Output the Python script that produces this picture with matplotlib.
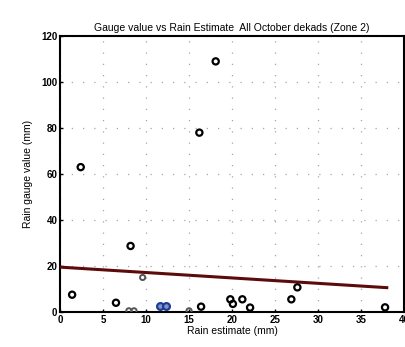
import numpy as np
import matplotlib
matplotlib.use('Agg')
import matplotlib.pyplot as plt

plt.rcParams['font.family'] = ['Liberation Sans', 'DejaVu Sans']

# estimate vs gauge, october dekads
est_black = [2.4, 1.4, 6.5, 8.2, 16.2, 18.1, 16.4, 19.8, 20.1, 21.2, 22.1, 26.9, 27.6, 37.8]
gauge_black = [63, 7.5, 4, 28.7, 78, 109, 2.3, 5.5, 3.5, 5.5, 1.9, 5.5, 10.7, 2]

est_blue = [11.6, 12.3]
gauge_blue = [2.7, 2.7]

est_grey = [9.6, 8.0, 8.6, 15.0]
gauge_grey = [15, 0.5, 0.5, 0.5]

# fitted trend
fit_x = [0, 38]
fit_intercept = 19.5
fit_slope = -0.235

fig = plt.figure(figsize=(4.06, 3.47), dpi=100)
ax = fig.add_axes([0.148, 0.101, 0.847, 0.795])

ax.grid(True, color='0.65', linestyle=(0, (1, 8)), linewidth=0.9)
ax.set_axisbelow(True)

fx = np.array(fit_x)
ax.plot(fx, fit_intercept + fit_slope * fx, color='#5c0a0a', linewidth=2.2, zorder=3)

ax.scatter(est_black, gauge_black, s=20, facecolors='none', edgecolors='black', linewidths=1.6, zorder=4)
ax.scatter(est_blue, gauge_blue, s=24, facecolors='#7f95c8', edgecolors='#1f3c94', linewidths=1.6, zorder=4)
ax.scatter(est_grey, gauge_grey, s=14, facecolors='none', edgecolors='#555555', linewidths=1.4, zorder=4)

ax.set_xlim(0, 40)
ax.set_ylim(0, 120)
ax.set_xticks(np.arange(0, 41, 5))
ax.set_yticks(np.arange(0, 121, 20))
ax.tick_params(labelsize=7, length=2, width=1, direction='in', pad=2)
for lab in ax.get_xticklabels() + ax.get_yticklabels():
    lab.set_fontweight('bold')
for sp in ax.spines.values():
    sp.set_linewidth(1.5)

ax.set_title('Gauge value vs Rain Estimate  All October dekads (Zone 2)', fontsize=7.5, pad=4)
ax.set_xlabel('Rain estimate (mm)', fontsize=7.5, labelpad=1)
ax.set_ylabel('Rain gauge value (mm)', fontsize=7.5, labelpad=6)

fig.savefig('out.png', dpi=100)
